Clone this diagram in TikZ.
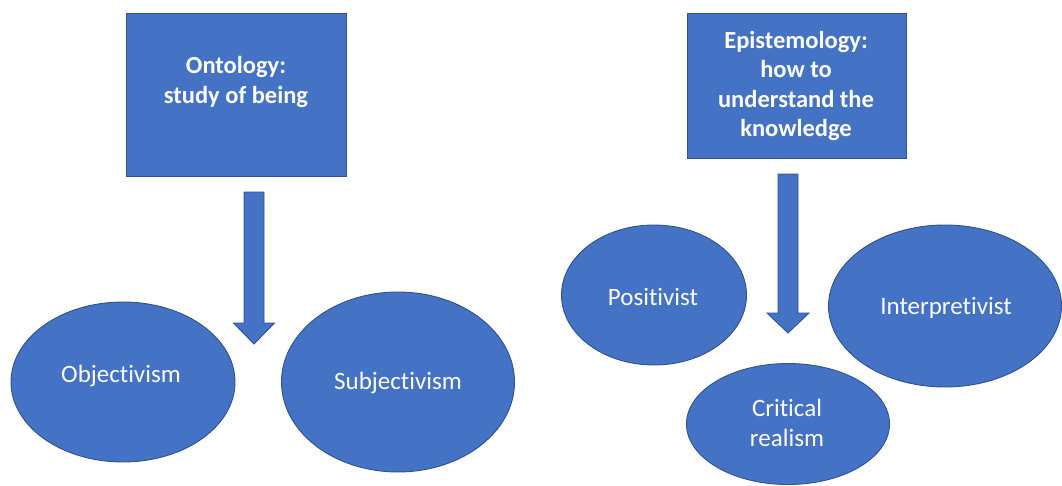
\documentclass[tikz,border=0pt]{standalone}
\usepackage{fontspec}
\setmainfont{Carlito}[RawFeature=-liga]
\usetikzlibrary{shapes.geometric}
\definecolor{shapefill}{HTML}{4472C4}
\definecolor{shapeedge}{HTML}{2F528F}
\begin{document}
\begin{tikzpicture}[x=1pt,y=-1pt,
  bluefill/.style={fill=shapefill,draw=shapeedge,line width=0.9pt},
  topic/.style={bluefill,rectangle,inner sep=0pt,anchor=north west},
  view/.style={bluefill,ellipse,inner sep=0pt},
  label text/.style={text=white,font=\fontsize{25}{29.5}\selectfont,align=center,inner sep=0pt},
  caption/.style={text=white,font=\bfseries\fontsize{24.5}{29.3}\selectfont,align=center,inner sep=0pt},
  blockarrow/.style={bluefill}]
\useasboundingbox (0,0) rectangle (1062,485);

% ontology side
\node[topic,minimum width=220pt,minimum height=163pt] (onto) at (126,13) {};
\node[caption] (ontotext) at (236,82) {Ontology:\\study of being};
\draw[blockarrow] (244,192) -- (264,192) -- (264,323) -- (274.5,323) -- (254,344)
  -- (233.5,323) -- (244,323) -- cycle;
\node[view,minimum width=224pt,minimum height=160pt] (obj) at (123,382) {};
\node[label text] (objtext) at (121,376) {Objectivism};
\node[view,minimum width=233pt,minimum height=180pt] (subj) at (398,382) {};
\node[label text] (subjtext) at (398,383) {Subjectivism};

% epistemology side
\node[topic,minimum width=219pt,minimum height=145pt] (epis) at (687,13) {};
\node[caption] (epistext) at (796,86) {Epistemology:\\how to\\understand the\\knowledge};
\draw[blockarrow] (778,174) -- (798,174) -- (798,313) -- (809,313) -- (788,333)
  -- (767,313) -- (778,313) -- cycle;
\node[view,minimum width=185pt,minimum height=140pt] (pos) at (654,295) {};
\node[label text] (postext) at (653,297) {Positivist};
\node[view,minimum width=233pt,minimum height=162pt] (interp) at (945,306) {};
\node[label text] (interptext) at (946,308) {Interpretivist};
\node[view,minimum width=203pt,minimum height=121pt] (crit) at (788,424) {};
\node[label text] (crittext) at (787,423) {Critical\\realism};
\end{tikzpicture}
\end{document}
